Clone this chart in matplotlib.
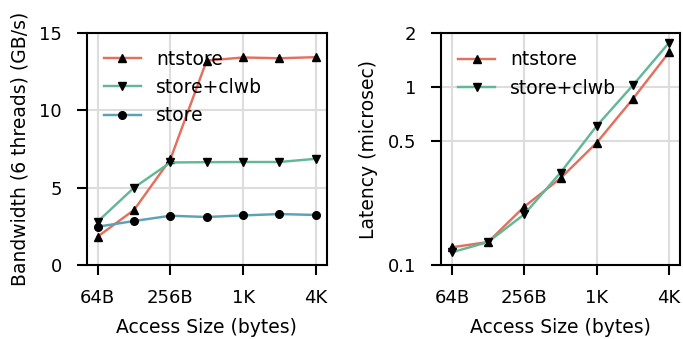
import matplotlib
matplotlib.use("Agg")
import matplotlib.pyplot as plt
from matplotlib.ticker import FixedLocator, NullLocator, FixedFormatter

sizes = [64, 128, 256, 512, 1024, 2048, 4096]
tick_vals = [64, 256, 1024, 4096]
tick_labels = ["64B", "256B", "1K", "4K"]

bw_ntstore = [1.83, 3.55, 6.82, 13.2, 13.4, 13.35, 13.42]
bw_clwb = [2.8, 4.99, 6.62, 6.64, 6.65, 6.65, 6.86]
bw_store = [2.47, 2.84, 3.18, 3.1, 3.2, 3.29, 3.23]

lat_ntstore = [0.1257, 0.1346, 0.2126, 0.307, 0.486, 0.857, 1.567]
lat_clwb = [0.1178, 0.1346, 0.1927, 0.330, 0.604, 1.022, 1.774]

c_nt = "#e3705c"
c_clwb = "#62b896"
c_store = "#5ba2b6"

FS = 13.5
plt.rcParams['font.family'] = ['DejaVu Sans']
plt.rcParams['font.size'] = FS

W, H = 683, 339
fig = plt.figure(figsize=(W / 100, H / 100), dpi=100)
ax1 = fig.add_axes([86.7 / W, (H - 265) / H, 240 / W, 232.3 / H])
ax2 = fig.add_axes([441 / W, (H - 265) / H, 239 / W, 231.7 / H])

def style(ax):
    ax.set_xscale('log', base=2)
    ax.xaxis.set_major_locator(FixedLocator(tick_vals))
    ax.xaxis.set_major_formatter(FixedFormatter(tick_labels))
    ax.xaxis.set_minor_locator(NullLocator())
    ax.grid(True, color="#dddddd", lw=1.5)
    ax.set_axisbelow(True)
    for s in ax.spines.values():
        s.set_linewidth(1.5)
        s.set_color('black')
    ax.tick_params(axis='both', which='major', length=7, width=1.5, labelsize=13, direction='out')
    ax.tick_params(axis='x', pad=10)
    ax.tick_params(axis='y', pad=11)
    ax.set_xlabel("Access Size (bytes)", fontsize=FS, labelpad=8)

mk = dict(markersize=5.5, markerfacecolor='black', markeredgecolor='black', lw=1.75)
ax1.plot(sizes, bw_ntstore, color=c_nt, marker='^', label='ntstore', **mk)
ax1.plot(sizes, bw_clwb, color=c_clwb, marker='v', label='store+clwb', **mk)
ax1.plot(sizes, bw_store, color=c_store, marker='o', label='store', **mk)
style(ax1)
ax1.set_ylim(0, 15)
ax1.set_yticks([0, 5, 10, 15])
ax1.set_ylabel("Bandwidth (6 threads) (GB/s)", fontsize=FS, labelpad=7)
ax1.legend(loc='upper left', frameon=False, fontsize=FS)

ax2.plot(sizes, lat_ntstore, color=c_nt, marker='^', label='ntstore', **mk)
ax2.plot(sizes, lat_clwb, color=c_clwb, marker='v', label='store+clwb', **mk)
style(ax2)
ax2.set_yscale('log')
ax2.set_ylim(0.1, 2)
ax2.yaxis.set_major_locator(FixedLocator([0.1, 0.5, 1, 2]))
ax2.yaxis.set_major_formatter(FixedFormatter(["0.1", "0.5", "1", "2"]))
ax2.yaxis.set_minor_locator(NullLocator())
ax2.set_ylabel("Latency (microsec)", fontsize=FS, labelpad=7)
ax2.legend(loc='upper left', frameon=False, fontsize=FS)

fig.savefig("out.png", dpi=100)
